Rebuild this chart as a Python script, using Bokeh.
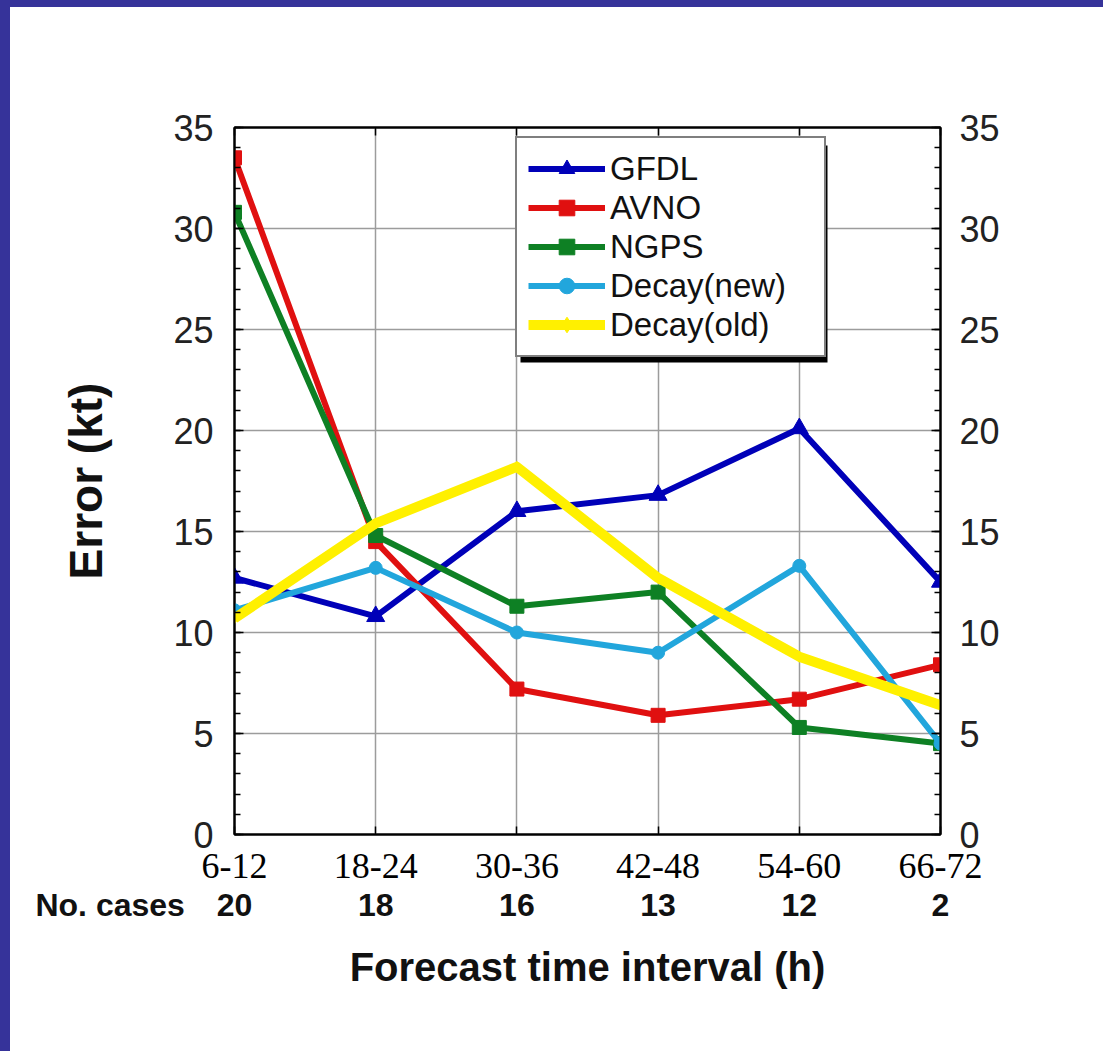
from bokeh.plotting import figure
from bokeh.models import (LinearAxis, FixedTicker, Range1d, Legend, LegendItem,
                          BoxAnnotation, Div)
from bokeh.layouts import column, row
from bokeh.embed import file_html
from bokeh.resources import INLINE

# ---------------- data ----------------
intervals = ["6-12", "18-24", "30-36", "42-48", "54-60", "66-72"]
n_cases = [20, 18, 16, 13, 12, 2]
cases_title = "No. cases"
gfdl = [12.7, 10.8, 16.0, 16.8, 20.1, 12.5]
avno = [33.5, 14.5, 7.2, 5.9, 6.7, 8.4]
ngps = [30.8, 14.8, 11.3, 12.0, 5.3, 4.5]
decay_new = [11.1, 13.2, 10.0, 9.0, 13.3, 4.5]
decay_old = [10.7, 15.4, 18.2, 12.7, 8.8, 6.4]
y_ticks = [0, 5, 10, 15, 20, 25, 30, 35]
y_minor = list(range(0, 36))

xs = list(range(len(intervals)))

# ---------------- layout ----------------
STRIP_L, STRIP_T = 10, 7
W, H = 1103 - STRIP_L, 1051 - STRIP_T
BL, BT = 234 - STRIP_L, 127 - STRIP_T
FW, FH = 706, 707
BR, BB = W - BL - FW, H - BT - FH
YMAX = 35
XMAX = len(intervals) - 1

SANS = "Liberation Sans"
SERIF = "Liberation Serif"
FRAME_BLUE = "#36339a"

p = figure(width=W, height=H, x_range=Range1d(0, XMAX), y_range=Range1d(0, YMAX),
           output_backend="svg", toolbar_location=None,
           min_border_left=BL, min_border_right=BR, min_border_top=BT,
           min_border_bottom=BB, background_fill_color="white",
           border_fill_color="white", outline_line_color="black",
           outline_line_width=2)

# grid
p.xgrid.ticker = FixedTicker(ticks=xs, minor_ticks=[])
p.ygrid.ticker = FixedTicker(ticks=y_ticks, minor_ticks=[])
for g in (p.xgrid, p.ygrid):
    g.grid_line_color = "#9c9c9c"
    g.grid_line_width = 1.5

# x axis (intervals)
xa = p.xaxis[0]
xa.ticker = FixedTicker(ticks=xs, minor_ticks=[])
xa.major_label_overrides = {i: s for i, s in zip(xs, intervals)}
xa.major_label_text_font = SERIF
xa.major_label_text_font_size = "36px"
xa.major_label_text_color = "black"
xa.major_label_standoff = 19
xa.axis_line_width = 2
xa.major_tick_in = 8
xa.major_tick_out = 0
xa.major_tick_line_width = 1.5

# second axis (number of cases) + its row title placed left of the frame
NB = "\u00a0"
case_labels = {i: str(n) for i, n in zip(xs, n_cases)}
case_labels[0.001] = cases_title + NB * 28
xa2 = LinearAxis(ticker=FixedTicker(ticks=[0.001] + xs, minor_ticks=[]),
                 major_label_overrides=case_labels)
xa2.major_label_text_font = SANS
xa2.major_label_text_font_style = "bold"
xa2.major_label_text_font_size = "32px"
xa2.major_label_text_color = "#111111"
xa2.major_label_standoff = 0
xa2.axis_line_color = None
xa2.major_tick_line_color = None
xa2.minor_tick_line_color = None
xa2.axis_label = "Forecast time interval (h)"
xa2.axis_label_text_font = SANS
xa2.axis_label_text_font_style = "bold"
xa2.axis_label_text_font_size = "40px"
xa2.axis_label_text_color = "#111111"
xa2.axis_label_standoff = 19
p.add_layout(xa2, "below")

# top axis (ticks only)
xt = LinearAxis(ticker=FixedTicker(ticks=xs, minor_ticks=[]),
                major_label_overrides={i: "" for i in xs})
xt.axis_line_width = 2
xt.major_tick_in = 8
xt.major_tick_out = 0
xt.major_tick_line_width = 1.5
xt.major_label_text_font_size = "1px"
p.add_layout(xt, "above")

# y axes
def style_y(ax, standoff):
    ax.ticker = FixedTicker(ticks=y_ticks, minor_ticks=y_minor)
    ax.major_label_text_font = SANS
    ax.major_label_text_font_size = "36px"
    ax.major_label_text_color = "#222222"
    ax.major_label_standoff = standoff
    ax.axis_line_width = 2
    ax.major_tick_in = 9
    ax.major_tick_out = 0
    ax.minor_tick_in = 6
    ax.minor_tick_out = 0
    ax.major_tick_line_width = 1.5
    ax.minor_tick_line_width = 1.5

ya = p.yaxis[0]
style_y(ya, 21)
ya.axis_label = "Error (kt)"
ya.axis_label_text_font = SANS
ya.axis_label_text_font_style = "bold"
ya.axis_label_text_font_size = "46px"
ya.axis_label_text_color = "#111111"
ya.axis_label_standoff = 58

yr = LinearAxis()
style_y(yr, 19)
p.add_layout(yr, "right")

# ---------------- series ----------------
series = [
    ("GFDL", gfdl, "#0000b8", "triangle", 18, 6),
    ("AVNO", avno, "#e01010", "square", 14, 6),
    ("NGPS", ngps, "#0e8024", "square", 14, 6),
    ("Decay(new)", decay_new, "#22a6dc", "circle", 13, 6),
    ("Decay(old)", decay_old, "#fff000", "diamond", 11, 10),
]

items = []
for name, ys, color, marker, size, lw in series:
    r1 = p.line(xs, ys, line_color=color, line_width=lw, line_join="round")
    r2 = p.scatter(xs, ys, marker=marker, size=size, fill_color=color,
                   line_color=color)
    items.append(LegendItem(label=name, renderers=[r1, r2]))

# legend geometry (px, relative to the frame's bottom-left corner)
LEG_L, LEG_B = 281, 477
LEG_W, LEG_H = 307, 217
SH = 5
sx0 = LEG_L + SH
sx1 = LEG_L + LEG_W + SH
sy_bot = LEG_B - SH
sy_top = LEG_B + LEG_H - SH
p.add_layout(BoxAnnotation(left=sx0 / FW * XMAX, right=sx1 / FW * XMAX,
                           bottom=sy_bot / FH * YMAX, top=sy_top / FH * YMAX,
                           fill_color="black", fill_alpha=1.0,
                           line_color=None, level="overlay"))

legend = Legend(items=items, location=(LEG_L, LEG_B), orientation="vertical",
                label_text_font=SANS, label_text_font_size="33px",
                label_text_color="#111111", glyph_width=77, glyph_height=39,
                label_height=39, label_width=203, label_standoff=5,
                spacing=0, padding=11, margin=0,
                border_line_color="black", border_line_width=2,
                background_fill_color="white", background_fill_alpha=1.0,
                level="overlay")
p.add_layout(legend, "center")

# blue slide border strips (top and left), sizes pinned so they cannot stretch
top_styles = {"background-color": FRAME_BLUE, "margin": "0", "padding": "0",
              "overflow": "hidden", "height": f"{STRIP_T}px",
              "max-height": f"{STRIP_T}px", "width": f"{W + STRIP_L}px",
              "max-width": f"{W + STRIP_L}px"}
left_styles = {"background-color": FRAME_BLUE, "margin": "0", "padding": "0",
               "overflow": "hidden", "width": f"{STRIP_L}px",
               "max-width": f"{STRIP_L}px", "height": f"{H}px",
               "max-height": f"{H}px"}
top_strip = Div(text="", width=W + STRIP_L, height=STRIP_T, styles=top_styles)
left_strip = Div(text="", width=STRIP_L, height=H, styles=left_styles)

page = column(top_strip, row(left_strip, p, spacing=0), spacing=0)

open("out.html", "w").write(file_html(page, INLINE))
